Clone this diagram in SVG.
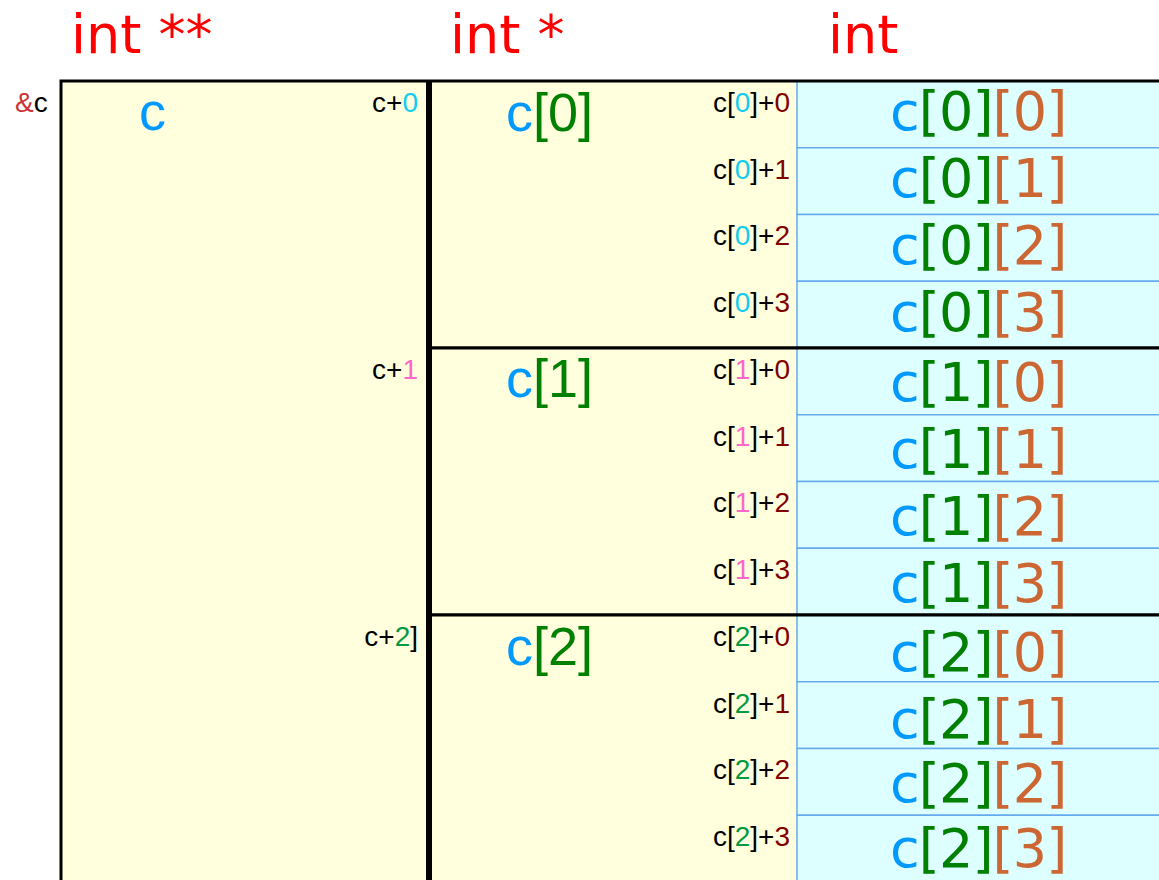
<svg xmlns="http://www.w3.org/2000/svg" width="1159" height="880" viewBox="0 0 1159 880">
<style>
.title{font-family:"DejaVu Sans",sans-serif;font-size:54px;fill:#ff0000}
.sm{font-family:"Liberation Sans",Arial,sans-serif;font-size:28px;fill:#000000}
.big{font-family:"Liberation Sans",Arial,sans-serif;font-size:54px}
.cell{font-family:"DejaVu Sans",sans-serif;font-size:54px;letter-spacing:-0.9px}
.yel{fill:#ffffdd}
.cy{fill:#ddffff;stroke:#66aaee;stroke-width:1.5}
.blk{fill:none;stroke:#000000;stroke-width:3}
.cb{fill:#0099ff}
.g{fill:#008000}
.o{fill:#cc6633}
.m{fill:#800000}
.d0{fill:#11ccee}
.d1{fill:#ff66cc}
.d2{fill:#009944}
</style>
<rect width="1159" height="880" fill="#ffffff"/>
<g id="titles">
<text class="title" x="71" y="53">int **</text>
<text class="title" x="450" y="53">int *</text>
<text class="title" x="828" y="53">int</text>
</g>
<g id="node-c">
<rect class="yel" x="61" y="81" width="370" height="820"/>
<rect class="blk" x="61" y="81" width="366.5" height="820"/>
<text class="sm" x="15" y="112"><tspan fill="#cc3333">&amp;</tspan>c</text>
<text class="big" x="139" y="130"><tspan class="cb">c</tspan></text>
<text class="sm" x="418" y="112" text-anchor="end">c+<tspan class="d0">0</tspan></text>
<text class="sm" x="418" y="379" text-anchor="end">c+<tspan class="d1">1</tspan></text>
<text class="sm" x="418" y="646" text-anchor="end">c+<tspan class="d2">2</tspan>]</text>
</g>
<g id="node-c0">
<rect class="yel" x="430.5" y="81" width="366.5" height="267"/>
<rect class="cy" x="797" y="81" width="366" height="66.75"/>
<rect class="cy" x="797" y="147.75" width="366" height="66.75"/>
<rect class="cy" x="797" y="214.5" width="366" height="66.75"/>
<rect class="cy" x="797" y="281.25" width="366" height="66.75"/>
<rect class="blk" x="430.5" y="81" width="740" height="267"/>
<text class="big" x="506" y="131"><tspan class="cb">c</tspan><tspan class="g">[0]</tspan></text>
<text class="sm" x="790" y="112" text-anchor="end">c[<tspan class="d0">0</tspan>]+<tspan class="m">0</tspan></text>
<text class="sm" x="790" y="178.7" text-anchor="end">c[<tspan class="d0">0</tspan>]+<tspan class="m">1</tspan></text>
<text class="sm" x="790" y="245.4" text-anchor="end">c[<tspan class="d0">0</tspan>]+<tspan class="m">2</tspan></text>
<text class="sm" x="790" y="312.1" text-anchor="end">c[<tspan class="d0">0</tspan>]+<tspan class="m">3</tspan></text>
</g>
<g id="node-c1">
<rect class="yel" x="430.5" y="348" width="366.5" height="267"/>
<rect class="cy" x="797" y="348" width="366" height="66.75"/>
<rect class="cy" x="797" y="414.75" width="366" height="66.75"/>
<rect class="cy" x="797" y="481.5" width="366" height="66.75"/>
<rect class="cy" x="797" y="548.25" width="366" height="66.75"/>
<rect class="blk" x="430.5" y="348" width="740" height="267"/>
<text class="big" x="506" y="397"><tspan class="cb">c</tspan><tspan class="g">[1]</tspan></text>
<text class="sm" x="790" y="379" text-anchor="end">c[<tspan class="d1">1</tspan>]+<tspan class="m">0</tspan></text>
<text class="sm" x="790" y="445.7" text-anchor="end">c[<tspan class="d1">1</tspan>]+<tspan class="m">1</tspan></text>
<text class="sm" x="790" y="512.4" text-anchor="end">c[<tspan class="d1">1</tspan>]+<tspan class="m">2</tspan></text>
<text class="sm" x="790" y="579.1" text-anchor="end">c[<tspan class="d1">1</tspan>]+<tspan class="m">3</tspan></text>
</g>
<g id="node-c2">
<rect class="yel" x="430.5" y="615" width="366.5" height="267"/>
<rect class="cy" x="797" y="615" width="366" height="66.75"/>
<rect class="cy" x="797" y="681.75" width="366" height="66.75"/>
<rect class="cy" x="797" y="748.5" width="366" height="66.75"/>
<rect class="cy" x="797" y="815.25" width="366" height="66.75"/>
<rect class="blk" x="430.5" y="615" width="740" height="267"/>
<text class="big" x="506" y="665"><tspan class="cb">c</tspan><tspan class="g">[2]</tspan></text>
<text class="sm" x="790" y="646" text-anchor="end">c[<tspan class="d2">2</tspan>]+<tspan class="m">0</tspan></text>
<text class="sm" x="790" y="712.7" text-anchor="end">c[<tspan class="d2">2</tspan>]+<tspan class="m">1</tspan></text>
<text class="sm" x="790" y="779.4" text-anchor="end">c[<tspan class="d2">2</tspan>]+<tspan class="m">2</tspan></text>
<text class="sm" x="790" y="846.1" text-anchor="end">c[<tspan class="d2">2</tspan>]+<tspan class="m">3</tspan></text>
</g>
<g id="cells">
<text class="cell" x="890" y="130"><tspan class="cb">c</tspan><tspan class="g">[0]</tspan><tspan class="o">[0]</tspan></text>
<text class="cell" x="890" y="197"><tspan class="cb">c</tspan><tspan class="g">[0]</tspan><tspan class="o">[1]</tspan></text>
<text class="cell" x="890" y="264"><tspan class="cb">c</tspan><tspan class="g">[0]</tspan><tspan class="o">[2]</tspan></text>
<text class="cell" x="890" y="331"><tspan class="cb">c</tspan><tspan class="g">[0]</tspan><tspan class="o">[3]</tspan></text>
<text class="cell" x="890" y="401"><tspan class="cb">c</tspan><tspan class="g">[1]</tspan><tspan class="o">[0]</tspan></text>
<text class="cell" x="890" y="468"><tspan class="cb">c</tspan><tspan class="g">[1]</tspan><tspan class="o">[1]</tspan></text>
<text class="cell" x="890" y="535"><tspan class="cb">c</tspan><tspan class="g">[1]</tspan><tspan class="o">[2]</tspan></text>
<text class="cell" x="890" y="602"><tspan class="cb">c</tspan><tspan class="g">[1]</tspan><tspan class="o">[3]</tspan></text>
<text class="cell" x="890" y="671"><tspan class="cb">c</tspan><tspan class="g">[2]</tspan><tspan class="o">[0]</tspan></text>
<text class="cell" x="890" y="738"><tspan class="cb">c</tspan><tspan class="g">[2]</tspan><tspan class="o">[1]</tspan></text>
<text class="cell" x="890" y="802"><tspan class="cb">c</tspan><tspan class="g">[2]</tspan><tspan class="o">[2]</tspan></text>
<text class="cell" x="890" y="867"><tspan class="cb">c</tspan><tspan class="g">[2]</tspan><tspan class="o">[3]</tspan></text>
</g>
<g id="connectors"/>
</svg>
